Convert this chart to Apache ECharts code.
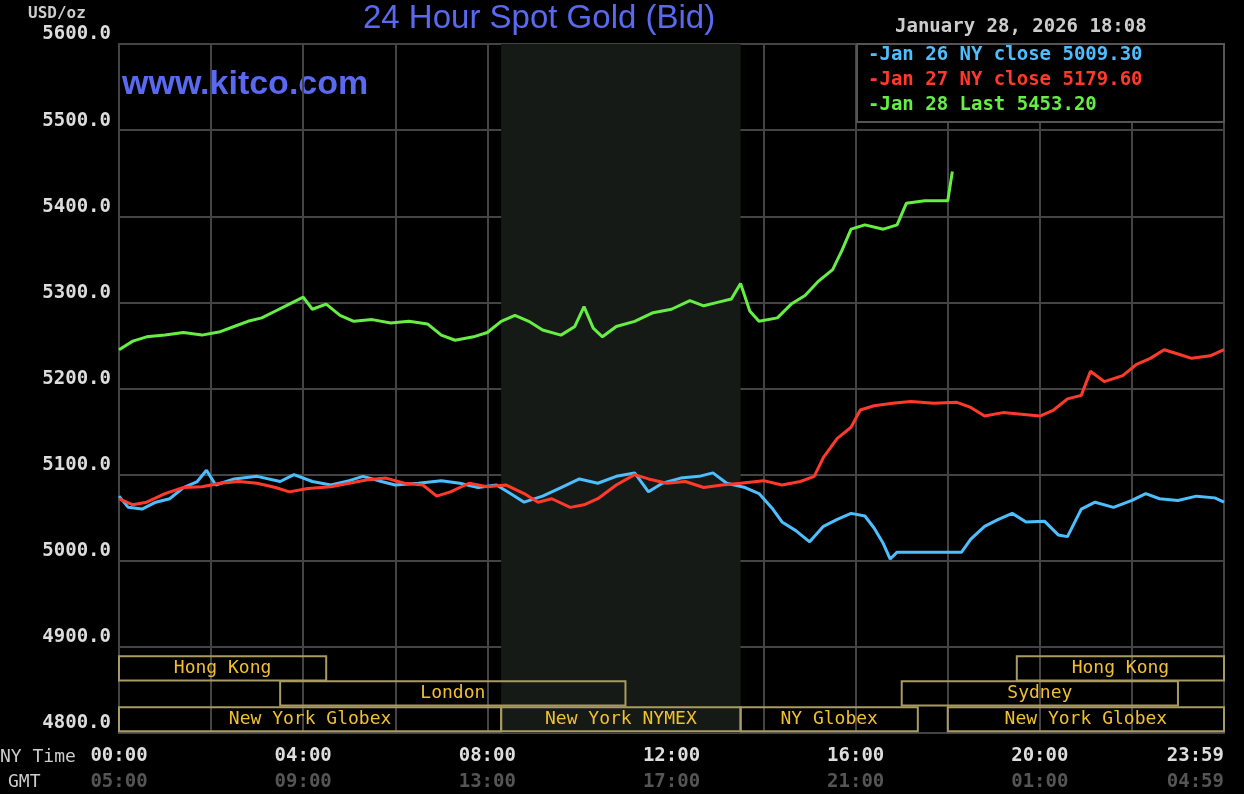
<!DOCTYPE html>
<html>
<head>
<meta charset="utf-8">
<script src="https://cdn.jsdelivr.net/npm/echarts@6/dist/echarts.min.js"></script>
<style>
html, body { margin: 0; padding: 0; background: #000; }
#main { width: 1244px; height: 794px; }
</style>
</head>
<body>
<div id="main"></div>
<script>
// hours since 00:00 NY time, price in USD/oz
var jan26 = [[0,5075],[0.2,5062],[0.5,5060],[0.8,5068],[1.1,5072],[1.4,5085],[1.7,5092],[1.9,5105],[2.1,5088],[2.5,5095],[3,5098],[3.5,5092],[3.8,5100],[4.2,5092],[4.6,5088],[5,5093],[5.3,5098],[5.7,5092],[6,5088],[6.5,5090],[7,5093],[7.4,5090],[7.8,5085],[8.2,5088],[8.5,5078],[8.8,5068],[9.2,5075],[9.6,5085],[10,5095],[10.4,5090],[10.8,5098],[11.2,5102],[11.5,5080],[11.8,5090],[12.2,5096],[12.6,5098],[12.9,5102],[13.2,5090],[13.6,5085],[13.9,5078],[14.2,5060],[14.4,5045],[14.7,5035],[15,5022],[15.3,5040],[15.6,5048],[15.9,5055],[16.2,5052],[16.4,5038],[16.6,5020],[16.75,5002],[16.9,5010],[17.5,5010],[18.3,5010],[18.5,5025],[18.8,5040],[19.1,5048],[19.4,5055],[19.7,5045],[20.1,5046],[20.4,5030],[20.6,5028],[20.9,5060],[21.2,5068],[21.6,5062],[22,5070],[22.3,5078],[22.6,5072],[23,5070],[23.4,5075],[23.8,5073],[24,5068]];
var jan27 = [[0,5072],[0.3,5065],[0.6,5068],[1,5078],[1.4,5085],[1.8,5086],[2.2,5090],[2.6,5092],[3,5090],[3.4,5085],[3.7,5080],[4.1,5084],[4.6,5086],[5,5090],[5.4,5094],[5.8,5096],[6.2,5090],[6.6,5088],[6.9,5075],[7.2,5080],[7.6,5090],[8,5086],[8.4,5088],[8.8,5078],[9.1,5068],[9.4,5072],[9.8,5062],[10.1,5065],[10.4,5072],[10.8,5088],[11.2,5100],[11.5,5095],[11.9,5090],[12.3,5092],[12.7,5085],[13.1,5088],[13.5,5090],[14,5093],[14.4,5088],[14.8,5092],[15.1,5098],[15.3,5120],[15.6,5142],[15.9,5155],[16.1,5175],[16.4,5180],[16.8,5183],[17.2,5185],[17.7,5183],[18.2,5184],[18.5,5178],[18.8,5168],[19.2,5172],[19.6,5170],[20,5168],[20.3,5175],[20.6,5188],[20.9,5192],[21.1,5220],[21.4,5208],[21.8,5215],[22.1,5228],[22.4,5235],[22.7,5245],[23,5240],[23.3,5235],[23.7,5238],[24,5245]];
var jan28 = [[0,5245],[0.3,5255],[0.6,5260],[1,5262],[1.4,5265],[1.8,5262],[2.2,5266],[2.5,5272],[2.8,5278],[3.1,5282],[3.4,5290],[3.7,5298],[4,5306],[4.2,5292],[4.5,5298],[4.8,5285],[5.1,5278],[5.5,5280],[5.9,5276],[6.3,5278],[6.7,5275],[7,5262],[7.3,5256],[7.7,5260],[8,5265],[8.3,5278],[8.6,5285],[8.9,5278],[9.2,5268],[9.6,5262],[9.9,5272],[10.1,5295],[10.3,5270],[10.5,5260],[10.8,5272],[11.2,5278],[11.6,5288],[12,5292],[12.4,5302],[12.7,5296],[13,5300],[13.3,5304],[13.5,5322],[13.7,5290],[13.9,5278],[14.3,5282],[14.6,5298],[14.9,5308],[15.2,5325],[15.5,5338],[15.7,5360],[15.9,5385],[16.2,5390],[16.6,5385],[16.9,5390],[17.1,5415],[17.5,5418],[18,5418],[18.1,5452]];
var sessions = [
  [0, 4.5, 0, 'Hong Kong'], [19.5, 24, 0, 'Hong Kong'],
  [3.5, 11, 1, 'London'], [17, 23, 1, 'Sydney'],
  [0, 8.3, 2, 'New York Globex'], [8.3, 13.5, 2, 'New York NYMEX'],
  [13.5, 17.35, 2, 'NY Globex'], [18, 24, 2, 'New York Globex']
];
var nyTicks = {0:'00:00',4:'04:00',8:'08:00',12:'12:00',16:'16:00',20:'20:00',24:'23:59'};
var gmtTicks = {0:'05:00',4:'09:00',8:'13:00',12:'17:00',16:'21:00',20:'01:00',24:'04:59'};

var mono = 'DejaVu Sans Mono';
var rowTop = [4889, 4860, 4830];
var chart = echarts.init(document.getElementById('main'));
chart.setOption({
  backgroundColor: '#000',
  animation: false,
  grid: { left: 119, right: 20, top: 44, bottom: 61, outerBoundsMode: 'none' },
  xAxis: {
    type: 'value', min: 0, max: 24, interval: 2,
    axisLine: { show: false }, axisTick: { show: false },
    splitLine: { lineStyle: { color: '#444', width: 2 } },
    axisLabel: {
      margin: 10, fontFamily: mono, fontWeight: 'bold', alignMaxLabel: 'right',
      formatter: function (v) {
        if (nyTicks[v] === undefined) return '';
        return '{a|' + nyTicks[v] + '}\n{b|' + gmtTicks[v] + '}';
      },
      rich: {
        a: { color: '#ddd', fontSize: 19, fontFamily: mono, fontWeight: 'bold', lineHeight: 26 },
        b: { color: '#555', fontSize: 19, fontFamily: mono, fontWeight: 'bold', lineHeight: 26 }
      }
    }
  },
  yAxis: {
    type: 'value', min: 4800, max: 5600, interval: 100,
    axisLine: { show: false }, axisTick: { show: false },
    splitLine: { lineStyle: { color: '#444', width: 2 } },
    axisLabel: {
      color: '#ddd', fontSize: 19, fontFamily: mono, fontWeight: 'bold',
      verticalAlign: 'bottom', margin: 8,
      formatter: function (v) { return v.toFixed(1); }
    }
  },
  graphic: [
    { type: 'rect', shape: { x: 119, y: 44, width: 1105, height: 689 }, style: { fill: 'none', stroke: '#444', lineWidth: 2 }, z: 1 },
    { type: 'text', left: 28, top: 6, style: { text: 'USD/oz', fill: '#ccc', font: 'bold 16px ' + mono } },
    { type: 'text', left: 363, top: 2, style: { text: '24 Hour Spot Gold (Bid)', fill: '#5a6af0', font: '33px Liberation Sans' } },
    { type: 'text', left: 122, top: 68, style: { text: 'www.kitco.com', fill: '#5a6af0', font: 'bold 34px Liberation Sans' } },
    { type: 'text', left: 895, top: 18, style: { text: 'January 28, 2026 18:08', fill: '#ccc', font: 'bold 19px ' + mono } },
    { type: 'rect', shape: { x: 857, y: 44, width: 367, height: 78 }, style: { fill: '#000', stroke: '#555', lineWidth: 2 }, z: 10 },
    { type: 'text', left: 868, top: 46, z: 11, style: { text: '-Jan 26 NY close 5009.30', fill: '#4dbfff', font: 'bold 19px ' + mono } },
    { type: 'text', left: 868, top: 71, z: 11, style: { text: '-Jan 27 NY close 5179.60', fill: '#ff3a2a', font: 'bold 19px ' + mono } },
    { type: 'text', left: 868, top: 96, z: 11, style: { text: '-Jan 28 Last 5453.20', fill: '#66ee44', font: 'bold 19px ' + mono } },
    { type: 'text', left: 0, top: 748, style: { text: 'NY Time', fill: '#ccc', font: '18px ' + mono } },
    { type: 'text', left: 8, top: 773, style: { text: 'GMT', fill: '#ccc', font: '18px ' + mono } }
  ],
  series: [
    {
      type: 'line', data: [], silent: true,
      markArea: { silent: true, itemStyle: { color: '#161a16' }, data: [[{ xAxis: 8.3 }, { xAxis: 13.5 }]] }
    },
    {
      type: 'custom', silent: true, z: 3,
      data: sessions,
      renderItem: function (params, api) {
        var row = api.value(2);
        var p1 = api.coord([api.value(0), rowTop[row]]);
        var p2 = api.coord([api.value(1), rowTop[row] - 28]);
        return {
          type: 'group',
          children: [
            { type: 'rect', shape: { x: p1[0], y: p1[1], width: p2[0] - p1[0], height: p2[1] - p1[1] },
              style: { fill: 'none', stroke: '#a89a60', lineWidth: 2 } },
            { type: 'text', style: { x: (p1[0] + p2[0]) / 2, y: (p1[1] + p2[1]) / 2, text: sessions[params.dataIndex][3],
              fill: '#f0c030', font: '18px ' + mono, align: 'center', verticalAlign: 'middle' } }
          ]
        };
      }
    },
    { type: 'line', data: jan26, showSymbol: false, lineStyle: { color: '#4dbfff', width: 3 }, z: 4 },
    { type: 'line', data: jan27, showSymbol: false, lineStyle: { color: '#ff3a2a', width: 3 }, z: 5 },
    { type: 'line', data: jan28, showSymbol: false, lineStyle: { color: '#66ee44', width: 3 }, z: 6 }
  ]
});
</script>
</body>
</html>
